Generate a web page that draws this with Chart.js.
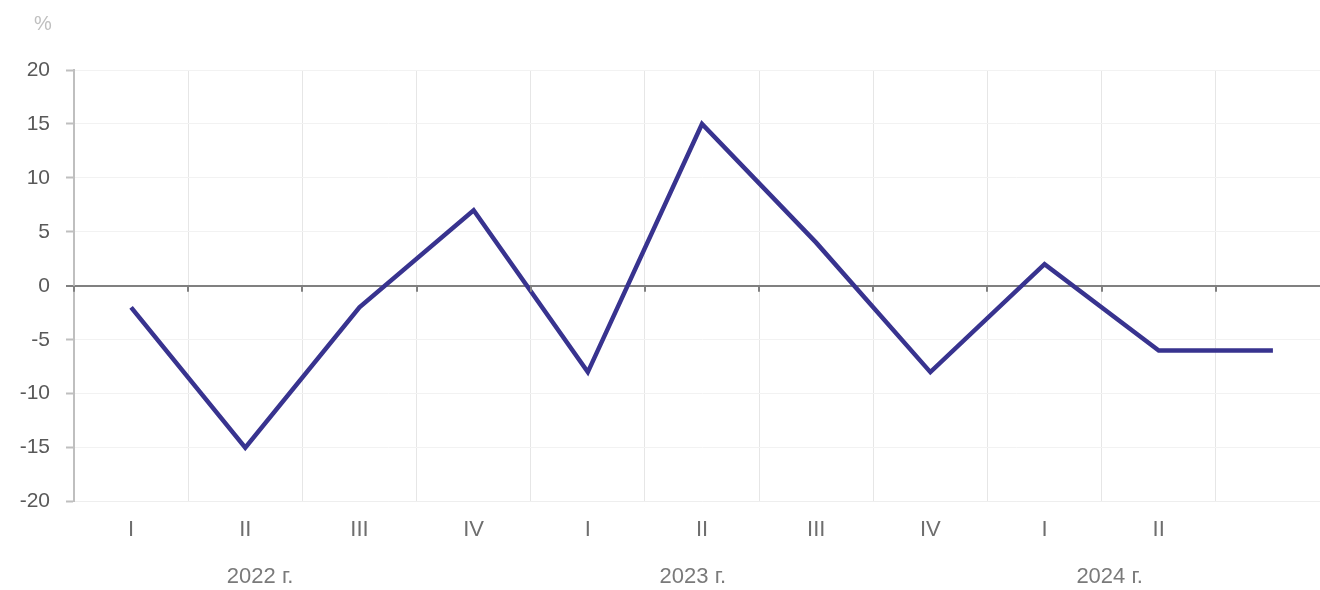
<!DOCTYPE html>
<html>
<head>
<meta charset="utf-8">
<script src="https://cdn.jsdelivr.net/npm/chart.js@4.4.1/dist/chart.umd.min.js"></script>
<style>
  html, body { margin: 0; padding: 0; background: #fff; overflow: hidden; }
  #wrap { width: 1330px; height: 590px; position: relative; }
</style>
</head>
<body>
<div id="wrap"><canvas id="myChart"></canvas></div>
<script>
var quarters = ["I", "II", "III", "IV", "I", "II", "III", "IV", "I", "II", ""];
var values = [-2, -15, -2, 7, -8, 15, 4, -8, 2, -6, -6];
var years = ["2022 г.", "2023 г.", "2024 г."];
// category index the year caption is centred on
var yearAt = [1.13, 4.92, 8.57];

var extras = {
    id: "extras",
    afterDraw: function (chart) {
        var ctx = chart.ctx, x = chart.scales.x, y = chart.scales.y;
        var y0 = y.getPixelForValue(0);
        ctx.save();
        // small ticks under the zero line
        ctx.strokeStyle = "#808080";
        ctx.lineWidth = 2;
        for (var i = 0; i < quarters.length; i++) {
            var px = Math.round(x.getPixelForValue(i - 0.5));
            ctx.beginPath();
            ctx.moveTo(px, y0);
            ctx.lineTo(px, y0 + 6);
            ctx.stroke();
        }
        // percent sign
        ctx.fillStyle = "#bfbfbf";
        ctx.font = "20px 'Liberation Sans', Arial, sans-serif";
        ctx.textAlign = "center";
        ctx.textBaseline = "middle";
        ctx.fillText("%", 43, 24);
        // year captions
        ctx.fillStyle = "#7a7a7a";
        ctx.font = "22px 'Liberation Sans', Arial, sans-serif";
        for (var j = 0; j < years.length; j++) {
            ctx.fillText(years[j], x.getPixelForValue(yearAt[j]), 577);
        }
        ctx.restore();
    }
};

new Chart("myChart", {
    type: "line",
    data: {
        labels: quarters,
        datasets: [{
            data: values,
            borderColor: "#38338f",
            borderWidth: 4.5,
            pointRadius: 0,
            tension: 0,
            fill: false
        }]
    },
    options: {
        responsive: true,
        maintainAspectRatio: false,
        animation: false,
        layout: { padding: { top: 70, bottom: 32, left: 0, right: 0 } },
        plugins: { legend: { display: false }, tooltip: { enabled: false } },
        scales: {
            x: {
                offset: true,
                grid: { offset: true, color: "#e6e6e6", lineWidth: 1, drawTicks: false },
                border: { color: "#eeeeee", width: 1 },
                ticks: {
                    color: "#6e6e6e",
                    padding: 15,
                    maxRotation: 0,
                    autoSkip: false,
                    font: { family: "'Liberation Sans', Arial, sans-serif", size: 22 }
                }
            },
            y: {
                min: -20,
                max: 20,
                afterFit: function (s) { s.width = 74; },
                ticks: {
                    stepSize: 5,
                    color: "#595959",
                    padding: 16,
                    font: { family: "'Liberation Sans', Arial, sans-serif", size: 21 }
                },
                grid: {
                    color: function (c) { return c.tick && c.tick.value === 0 ? "#808080" : "#f2f2f2"; },
                    lineWidth: function (c) { return c.tick && c.tick.value === 0 ? 2 : 1; },
                    tickColor: function (c) { return c.tick && c.tick.value === 0 ? "#808080" : "#bfbfbf"; },
                    tickLength: 8,
                    tickWidth: 2
                },
                border: { color: "#bfbfbf", width: 2 }
            }
        }
    },
    plugins: [extras]
});
</script>
</body>
</html>
